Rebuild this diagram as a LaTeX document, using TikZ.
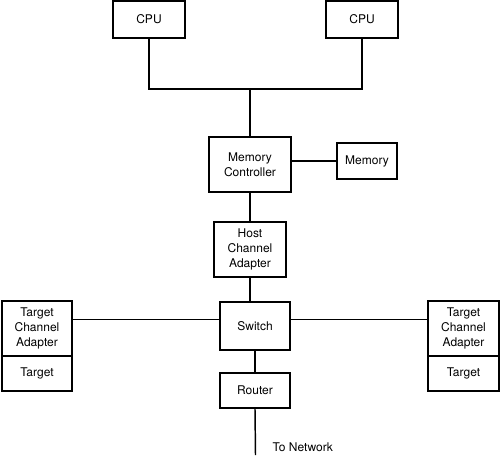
\documentclass[tikz,border=0pt]{standalone}
\usepackage{fontspec}
\setmainfont{TeX Gyre Heros}
\usetikzlibrary{positioning}

\begin{document}
\begin{tikzpicture}[x=0.75pt, y=-0.75pt,
    box/.style={draw, line width=1.9pt, align=center, inner sep=0pt,
        font=\fontsize{9}{11}\selectfont},
    link/.style={line width=1.1pt}]

\useasboundingbox (0,0) rectangle (500,455);

% Processors
\node[box, minimum width=54pt, minimum height=27.5pt] (cpuA) at (149,19.5) {CPU};
\node[box, minimum width=54pt, minimum height=27.5pt] (cpuB) at (362,19.5) {CPU};

% Memory subsystem
\node[box, minimum width=61.5pt, minimum height=41pt] (memctl) at (250,164.5) {Memory\\Controller};
\node[box, minimum width=45pt, minimum height=27pt] (mem) at (367,161) {Memory};

% Host side
\node[box, minimum width=54pt, minimum height=41pt] (hca) at (250,249.5) {Host\\Channel\\Adapter};
\node[box, minimum width=52.5pt, minimum height=36pt] (switch) at (255,326) {Switch};
\node[box, minimum width=52.5pt, minimum height=26pt] (router) at (255,390.5) {Router};

% Targets
\node[box, minimum width=52.5pt, minimum height=41pt] (tcaL) at (37,328.5) {Target\\Channel\\Adapter};
\node[box, minimum width=52.5pt, minimum height=26pt] (tgtL) at (37,373.5) {Target};
\node[box, minimum width=53pt, minimum height=41pt] (tcaR) at (463.5,328.5) {Target\\Channel\\Adapter};
\node[box, minimum width=53pt, minimum height=26pt] (tgtR) at (463.5,373.5) {Target};

% Links
\coordinate (bus) at (250,89);
\draw[link] (cpuA.south) -- (cpuA.south |- bus) -- (cpuB.south |- bus) -- (cpuB.south);
\draw[link] (bus) -- (memctl.north);
\draw[link] (mem.west) -- (mem.west -| memctl.east);
\draw[link] (memctl.south) -- (hca.north);
\draw[link] (hca.south) -- (hca.south |- switch.north);
\path (switch.west) ++(0,-6.5) coordinate (swL);
\path (switch.east) ++(0,-6.5) coordinate (swR);
\draw[link] (swL) -- (swL -| tcaL.east);
\draw[link] (swR) -- (swR -| tcaR.west);
\draw[link] (switch.south) -- (router.north);
\coordinate (net) at (255.5,455);
\draw[link] (router.south) -- (net);
\node[anchor=west, font=\fontsize{9}{11}\selectfont] (netlbl) at (268,447.5) {To Network};

\end{tikzpicture}
\end{document}
